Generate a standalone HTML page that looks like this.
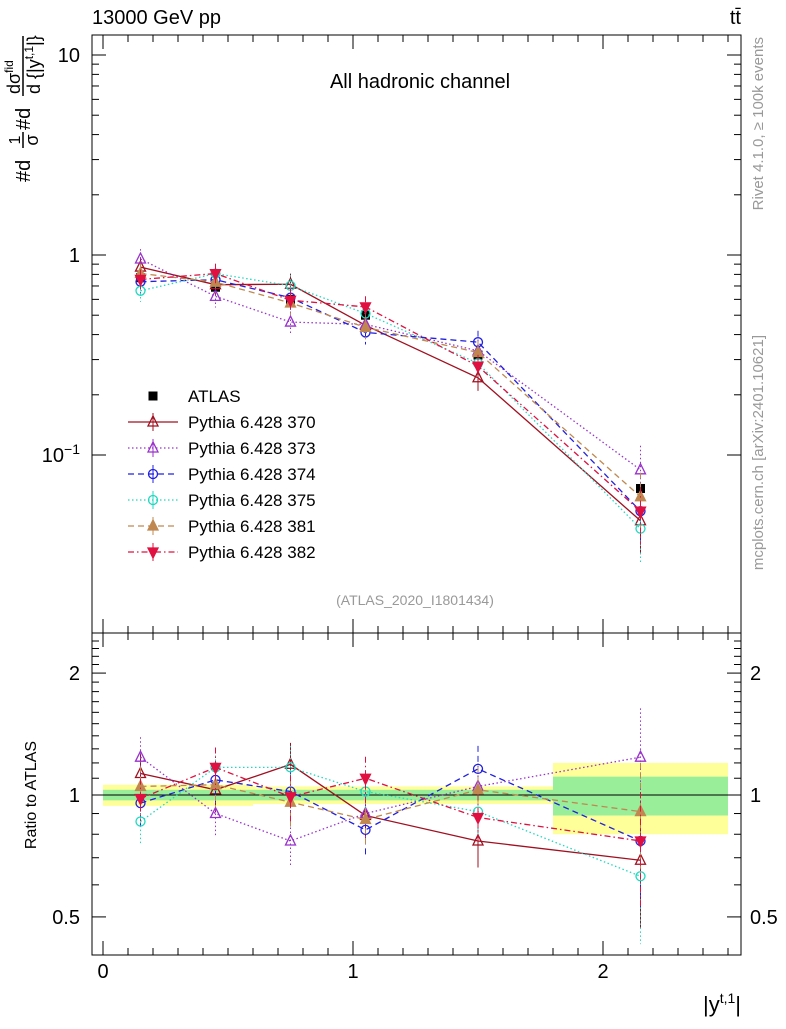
<!DOCTYPE html>
<html><head><meta charset="utf-8"><style>
body{margin:0;background:#fff;font-family:"Liberation Sans",sans-serif}
svg text{font-family:"Liberation Sans",sans-serif}
</style></head><body>
<svg id="c" width="786" height="1024" xmlns="http://www.w3.org/2000/svg"></svg>
<script>
const binLo=[0,0.3,0.6,0.9,1.2,1.8];
const binHi=[0.3,0.6,0.9,1.2,1.8,2.5];
const centers=[0.15,0.45,0.75,1.05,1.5,2.15];
const atlas=[0.77,0.69,0.60,0.50,0.316,0.068];
const bandTot=[0.06,0.06,0.05,0.05,0.05,0.20];
const bandStat=[0.03,0.03,0.03,0.03,0.03,0.11];
const r370=[1.13,1.03,1.19,0.89,0.77,0.69];
const r373=[1.24,0.90,0.77,0.90,1.05,1.24];
const r374=[0.955,1.09,1.02,0.82,1.16,0.77];
const r375=[0.86,1.17,1.17,1.02,0.91,0.63];
const r381=[1.05,1.06,0.96,0.87,1.03,0.91];
const r382=[0.98,1.17,0.99,1.10,0.88,0.77];
const errRel=[0.12,0.12,0.13,0.13,0.14,0.32];
const series=[
 {n:"Pythia 6.428 370",r:r370,c:"#a01020",d:"",m:"tri",f:false,k:"370"},
 {n:"Pythia 6.428 373",r:r373,c:"#9932cc",d:"1.5,2.5",m:"tri",f:false,k:"373"},
 {n:"Pythia 6.428 374",r:r374,c:"#2020e0",d:"6,4",m:"circ",f:false,k:"374"},
 {n:"Pythia 6.428 375",r:r375,c:"#20d8c0",d:"1.5,2.5",m:"circ",f:false,k:"375"},
 {n:"Pythia 6.428 381",r:r381,c:"#c08850",d:"6,4",m:"tri",f:true,k:"381"},
 {n:"Pythia 6.428 382",r:r382,c:"#e01040",d:"6,3,1.5,3",m:"itri",f:true,k:"382"}];
const NS="http://www.w3.org/2000/svg",svg=document.getElementById('c');
function el(t,a,p){const e=document.createElementNS(NS,t);for(const k in a)e.setAttribute(k,a[k]);(p||svg).appendChild(e);return e;}
const L=92,R=741,T1=35,B1=633,B2=955;
const X=v=>103+250*v;
const Y1=v=>255-200*Math.log10(v);
const Y2=v=>795-405*Math.log10(v);
let f1=el('rect',{x:L,y:T1,width:R-L,height:B1-T1,fill:'none',stroke:'#000'});

let f2=el('rect',{x:L,y:B1,width:R-L,height:B2-B1,fill:'none',stroke:'#000'});

for(let i=0;i<binLo.length;i++){
 let b=el('rect',{x:X(binLo[i]),y:Y2(1+bandTot[i]),width:X(binHi[i])-X(binLo[i]),height:Y2(1-bandTot[i])-Y2(1+bandTot[i]),fill:'#ffff99'});
 
 let g=el('rect',{x:X(binLo[i]),y:Y2(1+bandStat[i]),width:X(binHi[i])-X(binLo[i]),height:Y2(1-bandStat[i])-Y2(1+bandStat[i]),fill:'#99ee99'});
 
}
el('line',{x1:L,x2:R,y1:Y2(1),y2:Y2(1),stroke:'#000'});
for(let i=0;i<=25;i++){const v=i/10,x=X(v),maj=i%10==0,h=maj?14:7;
 for(const [yb,yt] of [[B1,T1],[B2,B1]]){el('line',{x1:x,x2:x,y1:yb,y2:yb-h,stroke:'#000'});el('line',{x1:x,x2:x,y1:yt,y2:yt+h,stroke:'#000'});}
 if(maj){let t=el('text',{x:x,y:978,'font-size':20,'text-anchor':'middle'});t.textContent=v;}}
for(let d=-1;d<=1;d++)for(let m=1;m<10;m++){const v=m*Math.pow(10,d),y=Y1(v);if(y<T1||y>B1)continue;const h=m==1?14:7;
 el('line',{x1:L,x2:L+h,y1:y,y2:y,stroke:'#000'});el('line',{x1:R,x2:R-h,y1:y,y2:y,stroke:'#000'});}
[["10",10],["1",1]].forEach(([s,v])=>{let t=el('text',{x:80,y:Y1(v)+7,'font-size':20,'text-anchor':'end'});t.textContent=s;});
let t10=el('text',{x:80,y:Y1(0.1)+7,'font-size':20,'text-anchor':'end'});t10.innerHTML='10<tspan dy="-8" font-size="14">−1</tspan>';

for(let v=0.4;v<=2.5;v+=0.1){const y=Y2(v);if(y<B1||y>B2)continue;const vv=Math.round(v*10)/10;const h=(vv==0.5||vv==1||vv==2)?14:7;
 el('line',{x1:L,x2:L+h,y1:y,y2:y,stroke:'#000'});el('line',{x1:R,x2:R-h,y1:y,y2:y,stroke:'#000'});}
[["2",2],["1",1],["0.5",0.5]].forEach(([s,v])=>{for(const [x,a] of [[80,'end'],[750,'start']]){let t=el('text',{x:x,y:Y2(v)+7,'font-size':20,'text-anchor':a});t.textContent=s;}});
function marker(m,x,y,c,f,g){const s=5;let e;
 if(m=='sq')e=el('rect',{x:x-4.5,y:y-4.5,width:9,height:9,fill:'#000'},g);
 else if(m=='circ')e=el('circle',{cx:x,cy:y,r:4.5,fill:f?c:'none',stroke:c,'stroke-width':1.3},g);
 else if(m=='tri')e=el('polygon',{points:`${x},${y-s-1} ${x-s},${y+s*0.8} ${x+s},${y+s*0.8}`,fill:f?c:'none',stroke:c,'stroke-width':1.3},g);
 else e=el('polygon',{points:`${x},${y+s+1} ${x-s},${y-s*0.8} ${x+s},${y-s*0.8}`,fill:f?c:'none',stroke:c,'stroke-width':1.3},g);
 return e;}
const ga=el('g',{});
centers.forEach((c,i)=>{marker('sq',X(c),Y1(atlas[i]),'#000',true,ga);});
series.forEach(s=>{
 const g=el('g',{});
 const v=s.r.map((r,i)=>r*atlas[i]);
 el('polyline',{points:centers.map((c,i)=>X(c)+','+Y1(v[i])).join(' '),fill:'none',stroke:s.c,'stroke-width':1.3,'stroke-dasharray':s.d},g);
 el('polyline',{points:centers.map((c,i)=>X(c)+','+Y2(s.r[i])).join(' '),fill:'none',stroke:s.c,'stroke-width':1.3,'stroke-dasharray':s.d},g);
 centers.forEach((c,i)=>{const e=errRel[i];
  el('line',{x1:X(c),x2:X(c),y1:Y1(v[i]*(1+e)),y2:Y1(v[i]*(1-e)),stroke:s.c,'stroke-dasharray':s.d},g);
  el('line',{x1:X(c),x2:X(c),y1:Y2(s.r[i]*(1+e)),y2:Y2(s.r[i]*(1-e)),stroke:s.c,'stroke-dasharray':s.d},g);
  marker(s.m,X(c),Y1(v[i]),s.c,s.f,g);marker(s.m,X(c),Y2(s.r[i]),s.c,s.f,g);});
});
const lg=el('g',{});
marker('sq',153,396,'#000',true,lg);let lt=el('text',{x:188,y:402,'font-size':17},lg);lt.textContent='ATLAS';
series.forEach((s,i)=>{const y=422+i*26;
 const e=el('g',{},lg);
 el('line',{x1:128,x2:178,y1:y,y2:y,stroke:s.c,'stroke-width':1.3,'stroke-dasharray':s.d},e);
 el('line',{x1:153,x2:153,y1:y-9,y2:y+9,stroke:s.c},e);
 marker(s.m,153,y,s.c,s.f,e);let t=el('text',{x:188,y:y+6,'font-size':17},e);t.textContent=s.n;});
function txt(x,y,s,a,attrs,name){let t=el('text',Object.assign({x:x,y:y},attrs));t.innerHTML=s;return t;}
txt(92,24,'13000 GeV pp',null,{'font-size':20},'energy-label');
txt(741,24,'tt̄',null,{'font-size':20,'text-anchor':'end'},'process-label');
txt(420,88,'All hadronic channel',null,{'font-size':20,'text-anchor':'middle'},'channel-label');
txt(415,605,'(ATLAS_2020_I1801434)',null,{'font-size':14,'text-anchor':'middle',fill:'#999'},'analysis-id');
txt(0,0,'Rivet 4.1.0, ≥ 100k events',null,{'font-size':15,fill:'#999','text-anchor':'end',transform:'translate(763,37) rotate(-90)'},'rivet-label');
txt(0,0,'mcplots.cern.ch [arXiv:2401.10621]',null,{'font-size':15,fill:'#999','text-anchor':'end',transform:'translate(763,335) rotate(-90)'},'mcplots-label');
// y-axis title (rotated fraction layout)
const yt=el('g',{transform:'translate(23,182) rotate(-90)'});
el('text',{x:0,y:7,'font-size':20},yt).textContent='#d';
el('line',{x1:34,x2:50,y1:0,y2:0,stroke:'#000','stroke-width':1.5},yt);
el('text',{x:42,y:-3,'font-size':16,'text-anchor':'middle'},yt).textContent='1';
el('text',{x:42,y:15,'font-size':18,'text-anchor':'middle'},yt).textContent='σ';
el('text',{x:52,y:7,'font-size':20},yt).textContent='#d';
el('line',{x1:86,x2:146,y1:0,y2:0,stroke:'#000','stroke-width':1.5},yt);
let nu=el('text',{x:88,y:-3,'font-size':18},yt);nu.innerHTML='dσ<tspan font-size="12" dy="-7">fid</tspan>';
let de=el('text',{x:88,y:17,'font-size':18},yt);de.innerHTML='d {|y<tspan font-size="12" dy="-7">t,1</tspan><tspan dy="7">|}</tspan>';
txt(0,0,'Ratio to ATLAS',null,{'font-size':16,'text-anchor':'middle',transform:'translate(36,795) rotate(-90)'},'ratio-axis-title');
txt(741,1012,'|y<tspan font-size="14" dy="-9">t,1</tspan><tspan dy="9">|</tspan>',null,{'font-size':22,'text-anchor':'end'},'x-axis-title');
</script>
</body></html>
